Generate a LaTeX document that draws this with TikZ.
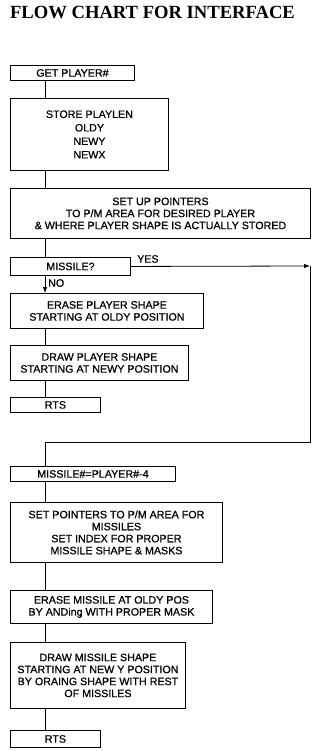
\documentclass[tikz,border=0pt]{standalone}
\usepackage{fontspec}
\setmainfont{Liberation Sans}[FakeBold=0.7]
\newfontfamily\titlefont{Liberation Serif}
\usetikzlibrary{arrows.meta}
\begin{document}
\begin{tikzpicture}[x=1pt,y=-1pt,
  box/.style={draw, line width=0.9pt, anchor=north west, inner sep=0pt, align=center,
              font=\fontsize{10.7}{12}\selectfont},
  conn/.style={line width=0.8pt},
  lbl/.style={inner sep=0pt, font=\fontsize{10.7}{12}\selectfont},
  tip/.style={-{Latex[length=6pt,width=4.5pt]}}]
\useasboundingbox (0,0) rectangle (320,751);
\node[font=\titlefont\bfseries\fontsize{18.6}{20}\selectfont, inner sep=0pt] (title) at (152.5,12) {FLOW CHART FOR INTERFACE};

\coordinate (x45) at (45,0);

\node[box, minimum width=124pt, minimum height=15pt] (b1) at (10,65) {GET PLAYER\#};
\node[box, minimum width=158pt, minimum height=72pt] (b2) at (10,98) {STORE PLAYLEN\\[1.5pt]OLDY\\[1.5pt]NEWY\\[1.5pt]NEWX};
\node[box, minimum width=300pt, minimum height=50pt] (b3) at (10,188) {SET UP POINTERS\\TO P/M AREA FOR DESIRED PLAYER\\\& WHERE PLAYER SHAPE IS ACTUALLY STORED};
\node[box, minimum width=120pt, minimum height=18pt] (b4) at (10,257) {MISSILE?};
\node[box, minimum width=193pt, minimum height=35pt] (b5) at (10,293) {ERASE PLAYER SHAPE\\STARTING AT OLDY POSITION};
\node[box, minimum width=178pt, minimum height=35pt] (b6) at (10,345) {DRAW PLAYER SHAPE\\STARTING AT NEWY POSITION};
\node[box, minimum width=90pt, minimum height=15pt] (b7) at (10,397) {RTS};
\node[box, minimum width=165pt, minimum height=15pt] (b8) at (10,466) {MISSILE\#=PLAYER\#-4};
\node[box, minimum width=212pt, minimum height=60pt] (b9) at (10,502) {SET POINTERS TO P/M AREA FOR\\MISSILES\\SET INDEX FOR PROPER\\MISSILE SHAPE \& MASKS};
\node[box, minimum width=202pt, minimum height=33pt] (b10) at (10,590) {ERASE MISSILE AT OLDY POS\\BY ANDing WITH PROPER MASK};
\node[box, minimum width=175pt, minimum height=66pt] (b11) at (10,642) {DRAW MISSILE SHAPE\\STARTING AT NEW Y POSITION\\BY ORAING SHAPE WITH REST\\OF MISSILES};
\node[box, minimum width=90pt, minimum height=17pt] (b12) at (10,730) {RTS};

\draw[conn] (b1.south -| x45) -- (b2.north -| x45);
\draw[conn] (b2.south -| x45) -- (b3.north -| x45);
\draw[conn] (b3.south -| x45) -- (b4.north -| x45);
\draw[conn, tip] (b4.south -| x45) -- (b5.north -| x45);
\node[lbl, anchor=west] (no) at (48,283) {NO};
\draw[conn] (b5.south -| x45) -- (b6.north -| x45);
\draw[conn] (b6.south -| x45) -- (b7.north -| x45);

\coordinate (cr) at (310,266);
\coordinate (cb) at (310,442);
\draw[conn, tip] (b4.east) -- (cr);
\node[lbl, anchor=west] (yes) at (137,259) {YES};
\draw[conn] (cr) -- (cb) -| (b8.north -| x45);

\draw[conn] (b8.south -| x45) -- (b9.north -| x45);
\draw[conn] (b9.south -| x45) -- (b10.north -| x45);
\draw[conn] (b10.south -| x45) -- (b11.north -| x45);
\draw[conn] (b11.south -| x45) -- (b12.north -| x45);
\end{tikzpicture}
\end{document}
